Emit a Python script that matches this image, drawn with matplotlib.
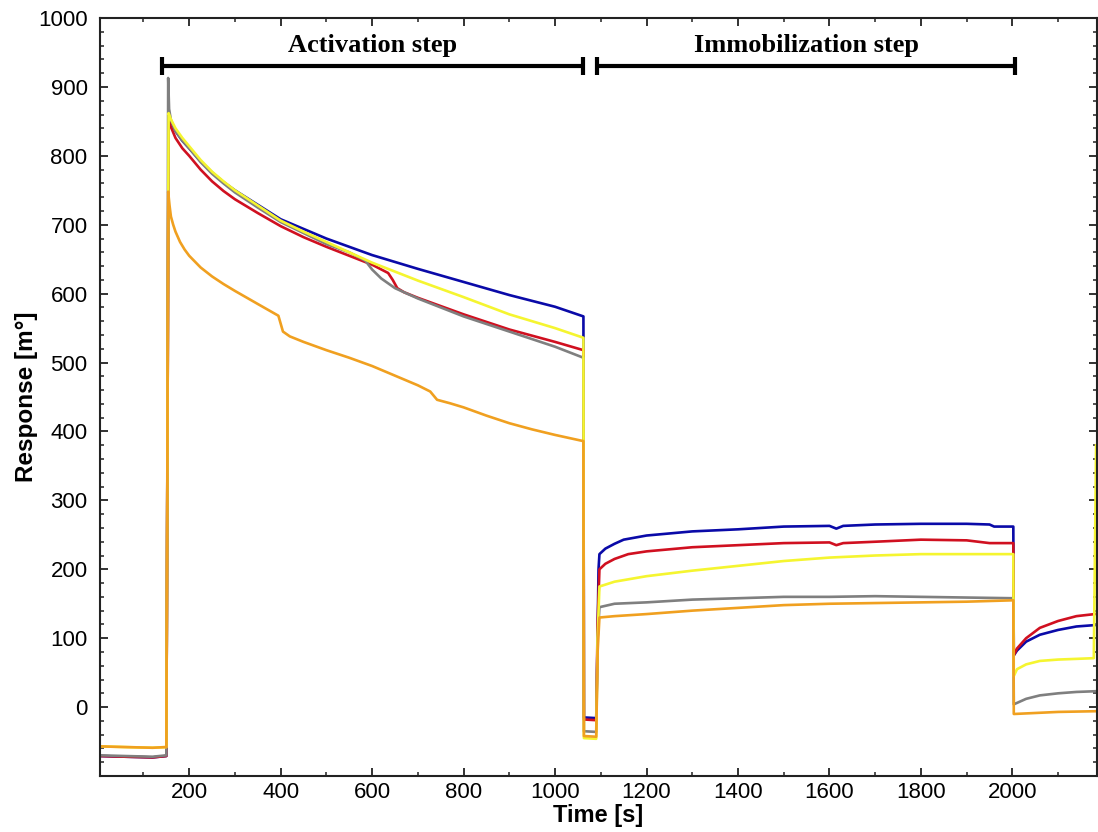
import matplotlib
matplotlib.use("Agg")
import matplotlib.pyplot as plt
from matplotlib.ticker import MultipleLocator

# Sensorgram traces: time [s] and response [m°] for each channel
blue_t = [5, 60, 120, 150, 152, 155, 160, 170, 185, 200, 225, 250, 275, 300, 350, 400, 450, 500, 600, 700, 800, 900, 1000,
          1062, 1063, 1090, 1092, 1095, 1097, 1110, 1130, 1150, 1200, 1250, 1300, 1400, 1500, 1600, 1615, 1630, 1700, 1800,
          1900, 1950, 1960, 2002, 2003, 2010, 2030, 2060, 2100, 2140, 2180]
blue_y = [-71, -72, -73, -71, 300, 858, 850, 836, 822, 811, 792, 776, 762, 750, 729, 708, 694, 680, 656, 636, 617, 598, 581,
          567, -15, -16, 60, 200, 222, 230, 237, 243, 249, 252, 255, 258, 262, 263, 259, 263, 265, 266,
          266, 265, 262, 262, 75, 82, 95, 105, 112, 117, 119]

red_t = [5, 60, 120, 150, 152, 155, 160, 170, 185, 200, 225, 250, 275, 300, 350, 400, 450, 500, 550, 600, 635, 645, 655, 670,
         700, 800, 900, 1000, 1062, 1063, 1090, 1093, 1097, 1110, 1130, 1160, 1200, 1300, 1400, 1500, 1600, 1615, 1630,
         1700, 1800, 1900, 1950, 1960, 2002, 2003, 2010, 2030, 2060, 2100, 2140, 2180]
red_y = [-71, -72, -73, -71, 300, 852, 842, 826, 811, 800, 780, 763, 749, 737, 717, 698, 682, 668, 655, 642, 630, 620, 608,
         602, 594, 570, 548, 530, 518, -18, -19, 120, 200, 208, 215, 222, 226, 232, 235, 238, 239, 235, 238,
         240, 243, 242, 238, 238, 238, 75, 85, 100, 115, 125, 132, 135]

yellow_t = [5, 60, 120, 150, 152, 155, 160, 170, 185, 200, 225, 250, 275, 300, 350, 400, 450, 500, 600, 700, 800, 900, 1000,
            1062, 1063, 1090, 1093, 1097, 1130, 1200, 1300, 1400, 1500, 1600, 1700, 1800, 1900, 2002,
            2003, 2010, 2030, 2060, 2100, 2140, 2178, 2183]
yellow_y = [-57, -58, -59, -58, 300, 862, 853, 840, 826, 814, 794, 777, 763, 750, 728, 706, 690, 675, 645, 619, 595, 570, 550,
            536, -45, -46, 100, 175, 182, 190, 198, 205, 212, 217, 220, 222, 222, 222,
            45, 55, 62, 67, 69, 70, 71, 380]

gray_t = [5, 60, 120, 150, 152, 154, 156, 160, 170, 185, 200, 225, 250, 275, 300, 350, 400, 450, 500, 550, 585, 600, 620,
          650, 700, 800, 900, 1000, 1062, 1063, 1090, 1093, 1097, 1130, 1200, 1300, 1400, 1500, 1600, 1700, 1800, 1900,
          2002, 2003, 2030, 2060, 2100, 2140, 2180]
gray_y = [-70, -71, -72, -70, 300, 913, 868, 852, 836, 822, 811, 791, 774, 760, 747, 725, 704, 688, 672, 660, 648, 635, 622,
          608, 593, 567, 545, 523, 507, -35, -36, 100, 145, 150, 152, 156, 158, 160, 160, 161, 160, 159,
          158, 4, 12, 17, 20, 22, 23]

orange_t = [5, 60, 120, 150, 152, 154, 157, 160, 165, 170, 180, 190, 200, 225, 250, 275, 300, 350, 395, 405, 420, 450, 500,
            550, 600, 650, 700, 727, 742, 770, 800, 850, 900, 950, 1000, 1062, 1063, 1090, 1093, 1097, 1130, 1200, 1300,
            1400, 1500, 1600, 1700, 1800, 1900, 2002, 2003, 2100, 2180]
orange_y = [-57, -58, -59, -58, 300, 748, 728, 712, 700, 690, 675, 664, 655, 638, 625, 614, 604, 585, 568, 545, 538, 530, 518,
            507, 495, 481, 467, 458, 446, 441, 435, 423, 412, 403, 395, 386, -42, -43, 80, 130, 132, 135, 140,
            144, 148, 150, 151, 152, 153, 155, -10, -7, -6]

series = [
    (blue_t, blue_y, "#0a0aa8"),
    (red_t, red_y, "#d01020"),
    (gray_t, gray_y, "#7f7f7f"),
    (yellow_t, yellow_y, "#f5f530"),
    (orange_t, orange_y, "#f0a020"),
]

# Step brackets: (start, end, label)
steps = [(141, 1060, "Activation step"), (1092, 2006, "Immobilization step")]

fig = plt.figure(figsize=(10.98, 8.32), dpi=100)
ax = fig.add_axes([0.0911, 0.0673, 0.908, 0.911])

for t, y, c in series:
    ax.plot(t, y, color=c, lw=1.9, solid_joinstyle="round")

for x0, x1, label in steps:
    ax.plot([x0, x1], [930, 930], color="black", lw=3, solid_capstyle="butt")
    for xe in (x0, x1):
        ax.plot([xe, xe], [917, 943], color="black", lw=3, solid_capstyle="butt")
    ax.text((x0 + x1) / 2, 960, label, ha="center", va="center",
            fontsize=19, fontweight="bold", family="Liberation Serif")

ax.set_xlim(5, 2185)
ax.set_ylim(-100, 1000)
ax.set_xticks(range(200, 2001, 200))
ax.set_yticks(range(0, 1001, 100))
ax.xaxis.set_minor_locator(MultipleLocator(100))
ax.yaxis.set_minor_locator(MultipleLocator(20))
ax.tick_params(which="both", direction="in", top=True, right=True, labelsize=16, color="#222222")
ax.tick_params(which="major", length=6, width=1.3)
ax.tick_params(axis="y", which="major", pad=9)
ax.tick_params(axis="x", which="major", pad=4)
ax.tick_params(which="minor", length=3, width=1.1)
for lab in ax.get_xticklabels() + ax.get_yticklabels():
    lab.set_family("Liberation Sans")
for sp in ax.spines.values():
    sp.set_linewidth(1.5)
    sp.set_color("#222222")

ax.set_xlabel("Time [s]", fontsize=17, fontweight="bold", family="Liberation Sans", labelpad=1)
ax.set_ylabel("Response [m°]", fontsize=17.5, fontweight="bold", family="Liberation Sans", labelpad=0)

fig.savefig("out.png", dpi=100)
